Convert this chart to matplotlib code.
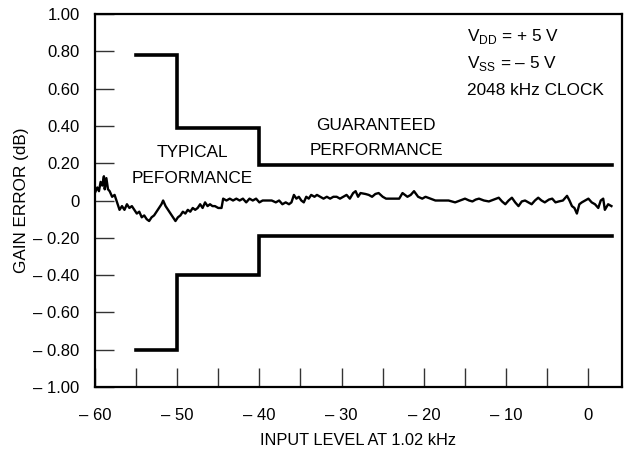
import numpy as np
import matplotlib
matplotlib.use("Agg")
import matplotlib.pyplot as plt
from matplotlib.ticker import FixedLocator, MultipleLocator

plt.rcParams["font.family"] = ["Liberation Sans", "DejaVu Sans"]
plt.rcParams["mathtext.fontset"] = "custom"
plt.rcParams["mathtext.rm"] = "Liberation Sans"

# =====================================================
# DATA
# =====================================================
# measured gain error trace (dB) vs input level (dB)
level = [
    -60.0, -59.7, -59.5, -59.3, -59.1, -58.9, -58.8, -58.6, -58.4, -58.2,
    -57.9, -57.6, -57.3, -57.0, -56.7, -56.4, -56.1, -55.8, -55.5, -55.2,
    -54.9, -54.6, -54.3, -54.0, -53.7, -53.4, -53.1, -52.8, -52.5, -52.2,
    -51.9, -51.7, -51.4, -51.1, -50.8, -50.5, -50.2, -49.9, -49.6, -49.3,
    -49.0, -48.7, -48.4, -48.1, -47.8, -47.5, -47.2, -46.9, -46.6, -46.3,
    -46.0, -45.7, -45.4, -45.0, -44.6, -44.4, -44.0, -43.6, -43.2, -42.8,
    -42.4, -42.0, -41.6, -41.2, -40.8, -40.4, -40.0, -39.6, -39.0, -38.5,
    -38.0, -37.6, -37.2, -36.8, -36.4, -36.1, -35.8, -35.5, -35.2, -34.9,
    -34.6, -34.3, -34.0, -33.7, -33.3, -33.0, -32.6, -32.2, -31.8, -31.4,
    -31.0, -30.6, -30.2, -29.8, -29.4, -29.0, -28.6, -28.3, -28.0, -27.7,
    -27.1, -26.7, -26.3, -25.9, -25.5, -25.0, -24.6, -24.2, -23.8, -23.4,
    -23.0, -22.6, -22.0, -21.6, -21.2, -20.7, -20.2, -19.8, -19.2, -18.6,
    -18.0, -17.5, -17.0, -16.6, -16.2, -15.6, -15.0, -14.5, -14.1, -13.7,
    -13.3, -12.7, -12.1, -11.5, -10.9, -10.5, -10.1, -9.7, -9.3, -8.9,
    -8.5, -8.1, -7.7, -7.3, -6.9, -6.5, -6.1, -5.7, -5.3, -4.8,
    -4.4, -4.0, -3.6, -3.1, -2.6, -2.3, -2.0, -1.7, -1.4, -1.1,
    -0.8, -0.4, 0.0, 0.4, 0.8, 1.2, 1.5, 1.8, 2.0, 2.4, 2.8,
]
gain_err = [
    0.04, 0.07, 0.05, 0.10, 0.08, 0.13, 0.06, 0.12, 0.06, 0.05,
    0.02, 0.03, -0.01, -0.05, -0.03, -0.05, -0.02, -0.04, -0.03, -0.05,
    -0.07, -0.06, -0.09, -0.08, -0.10, -0.11, -0.09, -0.08, -0.06, -0.04,
    -0.02, 0.00, -0.03, -0.05, -0.07, -0.09, -0.11, -0.09, -0.08, -0.06,
    -0.07, -0.05, -0.06, -0.04, -0.05, -0.04, -0.02, -0.04, -0.01, -0.03,
    -0.02, -0.03, -0.03, -0.04, -0.04, 0.01, 0.00, 0.01, 0.00, 0.01,
    0.00, 0.01, -0.01, 0.01, 0.00, 0.01, -0.01, 0.00, 0.00, 0.00,
    -0.01, 0.00, -0.02, -0.01, -0.02, -0.01, 0.03, 0.01, 0.02, 0.00,
    -0.01, 0.02, 0.01, 0.03, 0.02, 0.03, 0.02, 0.01, 0.02, 0.01,
    0.02, 0.02, 0.01, 0.02, 0.03, 0.01, 0.04, 0.05, 0.02, 0.04,
    0.035, 0.03, 0.02, 0.035, 0.04, 0.02, 0.01, 0.01, 0.01, 0.01,
    0.01, 0.04, 0.02, 0.03, 0.05, 0.02, 0.01, 0.02, 0.01, 0.00,
    0.00, 0.00, 0.00, -0.005, -0.01, 0.00, 0.01, 0.00, -0.005, 0.005,
    0.01, 0.00, -0.005, 0.005, 0.015, -0.005, -0.02, 0.00, 0.015, -0.01,
    -0.03, -0.005, 0.00, -0.01, -0.02, 0.00, 0.015, 0.00, -0.01, 0.005,
    0.01, -0.01, -0.005, 0.00, 0.025, 0.00, -0.03, -0.04, -0.07, -0.02,
    -0.01, 0.00, 0.01, -0.01, -0.02, -0.04, 0.00, 0.01, -0.05, -0.02, -0.03,
]

# guaranteed performance limits (step outline)
limit_x = [-55, -50, -50, -40, -40, 2.9]
upper_limit = [0.78, 0.78, 0.39, 0.39, 0.19, 0.19]
lower_limit = [-0.80, -0.80, -0.40, -0.40, -0.19, -0.19]

x_ticks = [-60, -50, -40, -30, -20, -10, 0]
y_ticks = [-1.0, -0.8, -0.6, -0.4, -0.2, 0.0, 0.2, 0.4, 0.6, 0.8, 1.0]


def dash_label(v, fmt):
    if abs(v) < 1e-9:
        return "0"
    s = fmt.format(abs(v))
    return "\u2013 " + s if v < 0 else s


# =====================================================
# PLOT
# =====================================================
fig = plt.figure(figsize=(6.24, 4.54), dpi=100)
ax = fig.add_axes([0.152, 0.1476, 0.845, 0.8215])

ax.plot(limit_x, upper_limit, color="black", lw=2.6, solid_joinstyle="miter")
ax.plot(limit_x, lower_limit, color="black", lw=2.6, solid_joinstyle="miter")
ax.plot(level, gain_err, color="black", lw=1.7)

ax.set_xlim(-60, 4.1)
ax.set_ylim(-1.0, 1.0)

ax.xaxis.set_major_locator(FixedLocator(x_ticks))
ax.xaxis.set_minor_locator(MultipleLocator(5))
ax.yaxis.set_major_locator(FixedLocator(y_ticks))
ax.set_xticklabels([dash_label(v, "{:.0f}") for v in x_ticks])
ax.set_yticklabels([dash_label(v, "{:.2f}") for v in y_ticks])

ax.tick_params(axis="both", which="both", direction="in", length=14,
               width=1.0, labelsize=12, color="#333333")
ax.tick_params(axis="x", pad=15)
ax.tick_params(axis="y", pad=11)

for sp in ax.spines.values():
    sp.set_linewidth(1.6)

ax.set_xlabel("INPUT LEVEL AT 1.02 kHz", fontsize=11.8, labelpad=7)
ax.set_ylabel("GAIN ERROR (dB)", fontsize=12.3, labelpad=3)

ax.text(-48.2, 0.233, "TYPICAL", ha="center", va="baseline", fontsize=12.4)
ax.text(-48.2, 0.094, "PEFORMANCE", ha="center", va="baseline", fontsize=12.4)
ax.text(-25.8, 0.378, "GUARANTEED", ha="center", va="baseline", fontsize=12.4)
ax.text(-25.8, 0.244, "PERFORMANCE", ha="center", va="baseline", fontsize=12.4)

ax.text(-14.8, 0.855, "V$_{\\mathregular{DD}}$ = + 5 V", ha="left",
        va="baseline", fontsize=12.4)
ax.text(-14.8, 0.71, "V$_{\\mathregular{SS}}$ = \u2013 5 V", ha="left",
        va="baseline", fontsize=12.4)
ax.text(-14.8, 0.566, "2048 kHz CLOCK", ha="left", va="baseline", fontsize=12.4)

fig.savefig("out.png", dpi=100)
plt.close(fig)
